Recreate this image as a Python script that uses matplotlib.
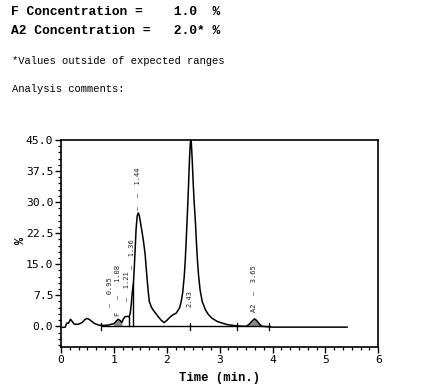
import numpy as np
import matplotlib
matplotlib.use("Agg")
import matplotlib.pyplot as plt
from matplotlib.ticker import MultipleLocator, FormatStrFormatter

# ---- data ----
time_min = [0.00, 0.08, 0.11, 0.14, 0.18, 0.21, 0.25, 0.33, 0.40, 0.45, 0.49, 0.53,
            0.58, 0.63, 0.71, 0.80, 0.90, 0.95, 1.00, 1.04, 1.08, 1.12, 1.15, 1.18,
            1.21, 1.25, 1.29, 1.31, 1.33, 1.35, 1.37, 1.385, 1.40, 1.42, 1.44, 1.46,
            1.48, 1.50, 1.53, 1.56, 1.59, 1.61, 1.63, 1.65, 1.67, 1.71, 1.75, 1.84,
            1.90, 1.95, 2.00, 2.06, 2.12, 2.18, 2.24, 2.27, 2.30, 2.33, 2.35, 2.37,
            2.39, 2.41, 2.43, 2.445, 2.455, 2.465, 2.48, 2.50, 2.52, 2.54, 2.56, 2.58,
            2.60, 2.63, 2.67, 2.73, 2.79, 2.85, 2.95, 3.04, 3.15, 3.32, 3.50, 3.55,
            3.60, 3.66, 3.70, 3.75, 3.80, 4.00, 5.41]
signal = [-0.3, -0.2, 0.8, 0.7, 1.7, 1.2, 0.5, 0.5, 0.9, 1.6, 1.9, 1.7,
          1.2, 0.7, 0.3, 0.2, 0.3, 0.5, 0.6, 1.2, 1.7, 1.4, 0.9, 1.8,
          2.3, 2.4, 2.3, 3.2, 5.5, 8.5, 10.4, 14.0, 18.0, 23.5, 26.6, 27.4,
          26.8, 25.3, 23.0, 20.5, 17.5, 14.3, 11.2, 8.3, 6.0, 4.6, 3.8, 2.3,
          1.4, 0.9, 1.4, 2.2, 2.8, 3.2, 4.4, 5.8, 8.0, 12.0, 16.0, 21.5,
          27.2, 33.5, 40.5, 44.2, 45.0, 44.2, 40.5, 34.5, 29.5, 25.6, 20.5, 16.0,
          12.5, 8.8, 6.0, 4.0, 2.8, 2.0, 1.2, 0.8, 0.4, 0.1, 0.0, 0.4,
          1.1, 1.8, 1.4, 0.6, 0.0, -0.2, -0.2]

baseline_span = [0.76, 3.95]
shaded_peaks = [(1.00, 1.15), (3.50, 3.80)]
drop_times = [1.29, 1.37]
marker_times = [0.76, 2.43, 3.32, 3.94]

peak_label_times = [0.93, 1.085, 1.245, 1.35, 1.45, 2.43, 3.65]
peak_label_texts = ["–  0.95", "F   –   1.08", "–  1.21", "–  1.36",
                    "–  –  1.44", "2.43", "A2  –  3.65"]
peak_label_bottoms = [4.7, 2.4, 6.0, 13.8, 28.2, 4.7, 3.4]

x_ticks = [0, 1, 2, 3, 4, 5, 6]
y_ticks = [0.0, 7.5, 15.0, 22.5, 30.0, 37.5, 45.0]

header_lines = ["F Concentration =    1.0  %", "A2 Concentration =   2.0* %"]
note_text = "*Values outside of expected ranges"
comment_text = "Analysis comments:"

# ---- figure ----
W, H = 444, 390
fig = plt.figure(figsize=(W / 100, H / 100), dpi=100)
mono = "Liberation Mono"

fig.text(11 / W, 1 - 12 / H, header_lines[0], family=mono, weight="bold",
         fontsize=9.4, va="center", ha="left")
fig.text(11 / W, 1 - 31 / H, header_lines[1], family=mono, weight="bold",
         fontsize=9.4, va="center", ha="left")
fig.text(12 / W, 1 - 61 / H, note_text, family=mono, fontsize=7.6,
         va="center", ha="left")
fig.text(12 / W, 1 - 89 / H, comment_text, family=mono, fontsize=7.6,
         va="center", ha="left")

left, right, top, bottom = 61, 378.3, 140, 347
ax = fig.add_axes([left / W, 1 - bottom / H, (right - left) / W, (bottom - top) / H])

t = np.array(time_min)
s = np.array(signal)

ax.plot(t, s, color="black", lw=1.1, solid_joinstyle="round")
ax.plot(baseline_span, [0, 0], color="black", lw=1.0)

for a, b in shaded_peaks:
    m = (t >= a) & (t <= b)
    ax.fill_between(t[m], 0, s[m], color="#8a8a8a", lw=0)

for dt in drop_times:
    ax.plot([dt, dt], [0, np.interp(dt, t, s)], color="black", lw=1.0)

for mt in marker_times:
    ax.plot([mt, mt], [-0.9, 0.9], color="black", lw=0.9)

for lt, txt, lb in zip(peak_label_times, peak_label_texts, peak_label_bottoms):
    ax.text(lt, lb, txt, rotation=90, ha="center", va="bottom",
            family="DejaVu Sans Mono", fontsize=5.0, color="#222222")

ax.set_xlim(0, 6)
ax.set_ylim(-5, 45)
ax.set_xticks(x_ticks)
ax.set_yticks(y_ticks)
ax.yaxis.set_major_formatter(FormatStrFormatter("%.1f"))
ax.xaxis.set_minor_locator(MultipleLocator(1 / 6))
ax.yaxis.set_minor_locator(MultipleLocator(1.5))

ax.tick_params(axis="both", which="major", direction="out", length=4, width=1.0,
               pad=1.5, labelsize=8.2)
ax.tick_params(axis="both", which="minor", direction="out", length=2.2, width=0.9)
for lab in ax.get_xticklabels() + ax.get_yticklabels():
    lab.set_family("DejaVu Sans Mono")
for sp in ax.spines.values():
    sp.set_linewidth(1.2)

fig.text(219.5 / W, 1 - 378 / H, "Time (min.)", family=mono, weight="bold",
         fontsize=8.8, ha="center", va="center")
fig.text(21 / W, 1 - 240 / H, "%", family=mono, weight="bold", fontsize=8.5,
         rotation=90, ha="center", va="center")

fig.savefig("out.png", dpi=100)
